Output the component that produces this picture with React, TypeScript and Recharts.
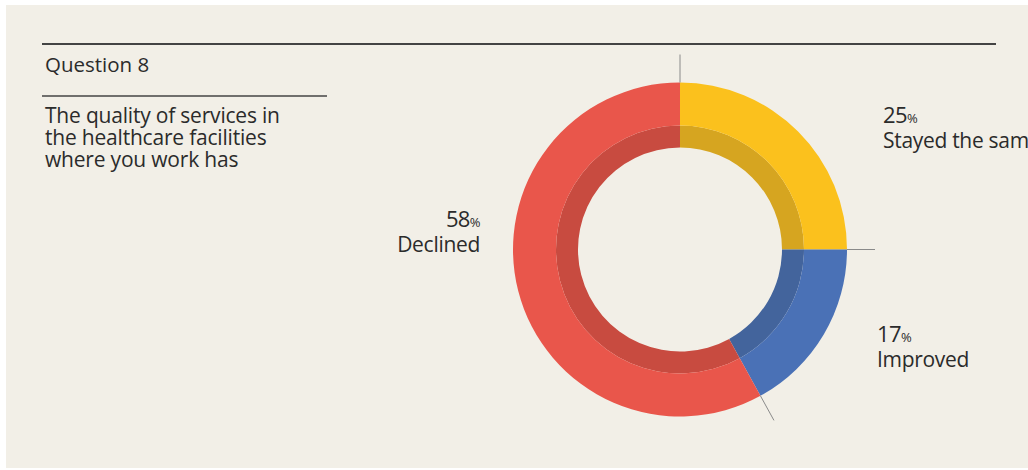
import React from 'react';
import { PieChart, Pie, Cell } from 'recharts';

// survey answers, clockwise from 12 o'clock
const categories = ['Stayed the same', 'Improved', 'Declined'];
const shares = [25, 17, 58];
const outerColors = ['#FBC11D', '#4A71B6', '#E9564B'];
const innerColors = ['#D6A520', '#43649C', '#C84B40'];

const questionTitle = 'Question 8';
const questionLines = ['The quality of services in', 'the healthcare facilities', 'where you work has'];

const data = categories.map((name, i) => ({ name, value: shares[i] }));

// label placement relative to the pie centre
const LABEL_POS: Record<string, { dx: number; dy: number; anchor: 'start' | 'end' }> = {
  'Stayed the same': { dx: 203, dy: -127, anchor: 'start' },
  Improved: { dx: 197, dy: 92, anchor: 'start' },
  Declined: { dx: -200, dy: -23, anchor: 'end' },
};

const FONT = '"Open Sans", sans-serif';
const TEXT = '#2b2b2b';
const RAD = Math.PI / 180;

const renderLabel = (props: any) => {
  const { cx, cy, outerRadius, startAngle, name, value } = props;
  const pos = LABEL_POS[name];
  const r1 = outerRadius;
  const r2 = outerRadius + 28;
  const x1 = cx + r1 * Math.cos(startAngle * RAD);
  const y1 = cy - r1 * Math.sin(startAngle * RAD);
  const x2 = cx + r2 * Math.cos(startAngle * RAD);
  const y2 = cy - r2 * Math.sin(startAngle * RAD);
  const tx = cx + pos.dx;
  const ty = cy + pos.dy;
  return (
    <g>
      <line x1={x1} y1={y1} x2={x2} y2={y2} stroke="#8a8a8a" strokeWidth={1} />
      <text x={tx} y={ty} textAnchor={pos.anchor} fill={TEXT} fontFamily={FONT} fontSize={22} letterSpacing={-0.6}>
        {value}
        <tspan fontSize={13}>%</tspan>
      </text>
      <text x={tx} y={ty + 25} textAnchor={pos.anchor} fill={TEXT} fontFamily={FONT} fontSize={21} letterSpacing={-0.3}>
        {name}
      </text>
    </g>
  );
};

export default function App() {
  return (
    <div style={{ position: 'absolute', left: 0, top: 0, width: 1028, height: 470, background: '#fff', overflow: 'hidden' }}>
      <div style={{ position: 'absolute', left: 6, top: 5, width: 1022, height: 463, background: '#F2EFE7' }} />
      <svg width={1028} height={470} style={{ position: 'absolute', left: 0, top: 0 }}>
        <line x1={42} y1={44} x2={996} y2={44} stroke="#444" strokeWidth={2} />
        <text x={45} y={72} fill={TEXT} fontFamily={FONT} fontSize={20.5}>{questionTitle}</text>
        <line x1={42} y1={96} x2={327} y2={96} stroke="#444" strokeWidth={1.5} />
        {questionLines.map((t, i) => (
          <text key={t} x={45} y={123 + i * 22} fill={TEXT} fontFamily={FONT} fontSize={21} letterSpacing={-0.2}>{t}</text>
        ))}
      </svg>
      <div style={{ position: 'absolute', left: 0, top: 0 }}>
        <PieChart width={1028} height={470} margin={{ top: 0, right: 0, bottom: 0, left: 0 }}>
          <Pie
            data={data}
            dataKey="value"
            nameKey="name"
            cx={680}
            cy={249.5}
            innerRadius={102}
            outerRadius={124}
            startAngle={90}
            endAngle={-270}
            stroke="none"
            isAnimationActive={false}
          >
            {data.map((d, i) => (
              <Cell key={`in-${i}`} fill={innerColors[i]} />
            ))}
          </Pie>
          <Pie
            data={data}
            dataKey="value"
            nameKey="name"
            cx={680}
            cy={249.5}
            innerRadius={124}
            outerRadius={167}
            startAngle={90}
            endAngle={-270}
            stroke="none"
            labelLine={false}
            label={renderLabel}
            isAnimationActive={false}
          >
            {data.map((d, i) => (
              <Cell key={`out-${i}`} fill={outerColors[i]} />
            ))}
          </Pie>
        </PieChart>
      </div>
    </div>
  );
}
